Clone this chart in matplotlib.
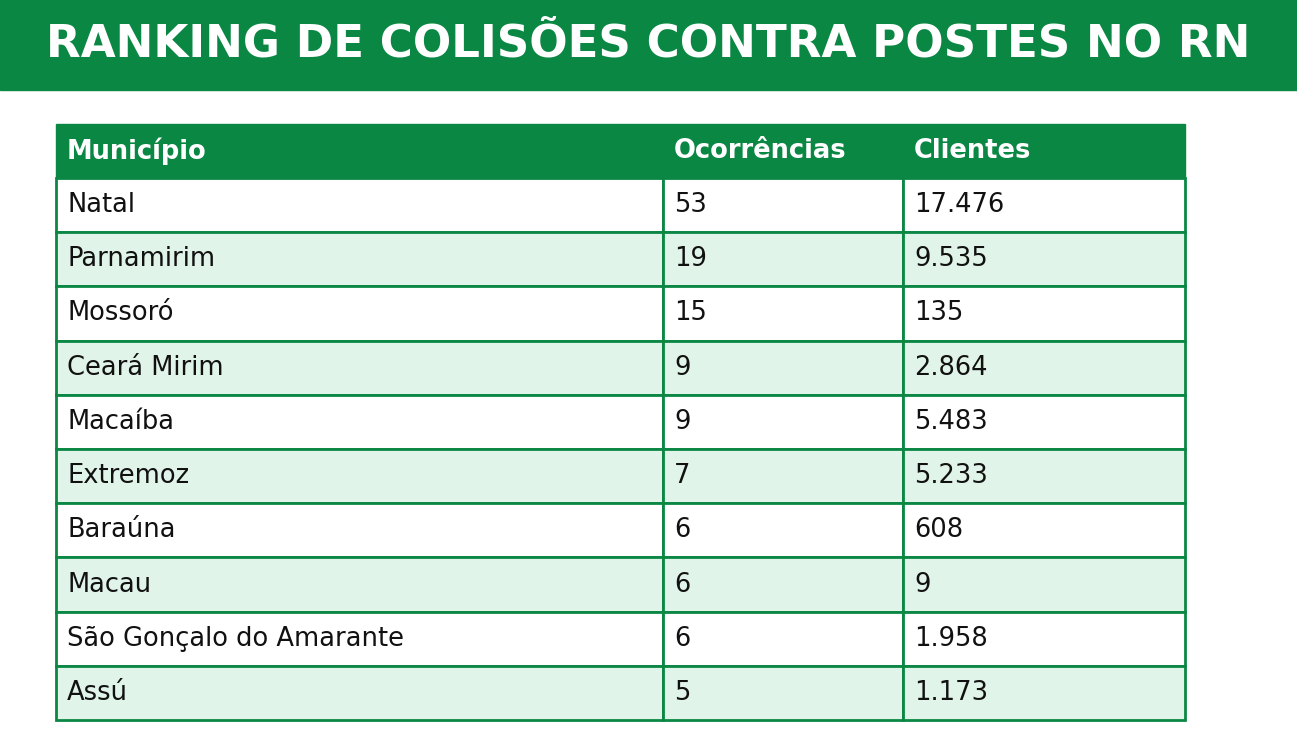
import matplotlib
matplotlib.use("Agg")
import matplotlib.pyplot as plt
from matplotlib.patches import Rectangle

title = "RANKING DE COLISÕES CONTRA POSTES NO RN"
headers = ["Município", "Ocorrências", "Clientes"]
municipios = ["Natal", "Parnamirim", "Mossoró", "Ceará Mirim", "Macaíba", "Extremoz",
              "Baraúna", "Macau", "São Gonçalo do Amarante", "Assú"]
ocorrencias = [53, 19, 15, 9, 9, 7, 6, 6, 6, 5]
clientes = ["17.476", "9.535", "135", "2.864", "5.483", "5.233", "608", "9", "1.958", "1.173"]

GREEN = "#0b8744"
LIGHT = "#e1f4e9"

fig = plt.figure(figsize=(12.97, 7.43), dpi=100)
ax = fig.add_axes([0, 0, 1, 1])
ax.set_xlim(0, 1297); ax.set_ylim(743, 0); ax.axis("off")

ax.add_patch(Rectangle((0, 0), 1297, 90, color=GREEN))
ax.text(648, 44, title, color="white", fontsize=32.5, fontweight="bold",
        ha="center", va="center", family="DejaVu Sans")

cols = [56, 663, 903, 1185]
top, hh = 124, 54
rh = (720 - 178) / len(municipios)
ax.add_patch(Rectangle((cols[0], top), cols[-1] - cols[0], hh, color=GREEN))
for j, h in enumerate(headers):
    ax.text(cols[j] + 11, top + hh / 2, h, color="white", fontsize=18.5,
            fontweight="bold", va="center")

for i, (m, o, c) in enumerate(zip(municipios, ocorrencias, clientes)):
    y = 178 + i * rh
    bg = "white" if i % 2 == 0 else LIGHT
    for j in range(3):
        ax.add_patch(Rectangle((cols[j], y), cols[j + 1] - cols[j], rh,
                               facecolor=bg, edgecolor=GREEN, lw=2))
    for j, v in enumerate([m, str(o), c]):
        ax.text(cols[j] + 11, y + rh / 2, v, color="#111111", fontsize=18.5, va="center")

fig.savefig("out.png", dpi=100)
